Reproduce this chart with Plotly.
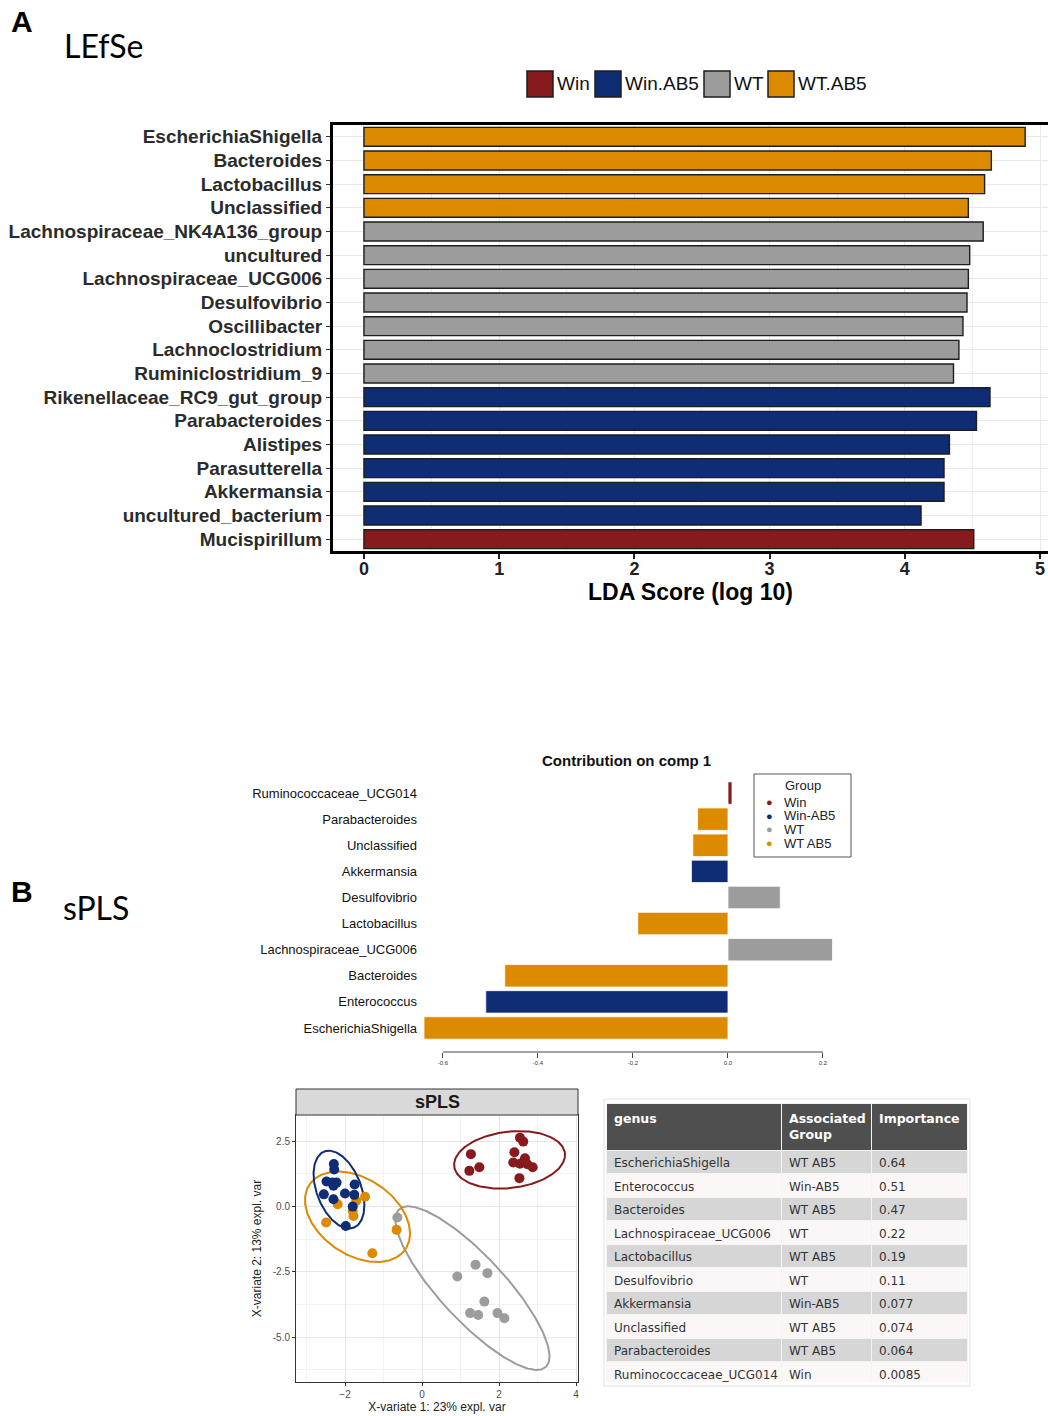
import numpy as np
import plotly.graph_objects as go

W, H = 1048, 1416


def fx(px):
    return px / W


def fy(py):
    return 1 - py / H


# ---------------- LEfSe data ----------------
lefse_taxa = [
    "EscherichiaShigella", "Bacteroides", "Lactobacillus", "Unclassified",
    "Lachnospiraceae_NK4A136_group", "uncultured", "Lachnospiraceae_UCG006",
    "Desulfovibrio", "Oscillibacter", "Lachnoclostridium", "Ruminiclostridium_9",
    "Rikenellaceae_RC9_gut_group", "Parabacteroides", "Alistipes",
    "Parasutterella", "Akkermansia", "uncultured_bacterium", "Mucispirillum",
]
lefse_group = (["WT.AB5"] * 4 + ["WT"] * 7 + ["Win.AB5"] * 6 + ["Win"])
lefse_lda = [4.89, 4.64, 4.59, 4.47, 4.58, 4.48, 4.47, 4.46, 4.43, 4.40, 4.36,
             4.63, 4.53, 4.33, 4.29, 4.29, 4.12, 4.51]
lefse_groups = ["Win", "Win.AB5", "WT", "WT.AB5"]

# ---------------- sPLS loadings / importance ----------------
spls_genus = [
    "EscherichiaShigella", "Enterococcus", "Bacteroides", "Lachnospiraceae_UCG006",
    "Lactobacillus", "Desulfovibrio", "Akkermansia", "Unclassified",
    "Parabacteroides", "Ruminococcaceae_UCG014",
]
spls_group = ["WT AB5", "Win-AB5", "WT AB5", "WT", "WT AB5", "WT", "Win-AB5",
              "WT AB5", "WT AB5", "Win"]
spls_contrib = [-0.64, -0.51, -0.47, 0.22, -0.19, 0.11, -0.077, -0.074, -0.064, 0.0085]
spls_groups = ["Win", "Win-AB5", "WT", "WT AB5"]

# ---------------- sPLS sample scores ----------------
win_x = [1.27, 1.23, 1.49, 2.545, 2.63, 2.40, 2.37, 2.545, 2.675, 2.735, 2.875, 2.53]
win_y = [2.01, 1.37, 1.51, 2.64, 2.49, 2.08, 1.69, 1.64, 1.85, 1.62, 1.51, 1.09]
winab5_x = [-2.29, -2.28, -2.48, -2.33, -2.22, -2.30, -1.75, -2.55, -2.00, -2.30, -1.76, -1.80, -1.98]
winab5_y = [1.63, 1.42, 0.96, 0.92, 0.92, 0.80, 0.85, 0.47, 0.50, 0.28, 0.45, 0.00, -0.74]
wt_x = [-0.64, 0.917, 1.39, 1.70, 1.62, 1.25, 1.46, 1.96, 2.14]
wt_y = [-0.42, -2.68, -2.23, -2.55, -3.64, -4.08, -4.15, -4.08, -4.28]
wtab5_x = [-2.19, -1.71, -1.48, -1.80, -1.78, -2.49, -1.29, -0.66]
wtab5_y = [0.09, 0.22, 0.38, -0.165, -0.36, -0.61, -1.79, -0.89]

score_sets = {
    "Win": (win_x, win_y),
    "Win-AB5": (winab5_x, winab5_y),
    "WT": (wt_x, wt_y),
    "WT AB5": (wtab5_x, wtab5_y),
}

palette = ["#861A1D", "#0E2D75", "#9C9C9C", "#DC8A00"]
lefse_color = dict(zip(lefse_groups, palette))
spls_color = dict(zip(spls_groups, palette))

FONT = "Liberation Sans, Arial, sans-serif"

fig = go.Figure()

# ---------------- Panel A: LEfSe bars ----------------
for g in lefse_groups:
    ys = [t for t, gg in zip(lefse_taxa, lefse_group) if gg == g]
    xs = [v for v, gg in zip(lefse_lda, lefse_group) if gg == g]
    fig.add_trace(go.Bar(
        x=xs, y=ys, orientation="h", name=g, width=0.8,
        marker=dict(color=lefse_color[g], line=dict(color="#1e1e1e", width=1.4)),
        xaxis="x", yaxis="y", showlegend=False,
    ))

# ---------------- Panel B: contribution on comp 1 ----------------
contrib_order = spls_genus[::-1]
contrib_vals = spls_contrib[::-1]
contrib_grp = spls_group[::-1]
fig.add_trace(go.Bar(
    x=contrib_vals, y=contrib_order, orientation="h", width=0.86,
    marker=dict(color=[spls_color[g] for g in contrib_grp],
                line=dict(color="white", width=0.8)),
    xaxis="x2", yaxis="y2", showlegend=False,
))

# ---------------- Panel B: sample plot with 95% ellipses ----------------
CHI2_95 = 5.991


def conf_ellipse(x, y, n=240):
    pts = np.vstack([x, y])
    centre = pts.mean(axis=1)
    vals, vecs = np.linalg.eigh(np.cov(pts))
    t = np.linspace(0, 2 * np.pi, n)
    circ = np.vstack([np.cos(t), np.sin(t)])
    ell = vecs @ (np.sqrt(vals * CHI2_95)[:, None] * circ) + centre[:, None]
    return ell[0], ell[1]


for g in ["WT", "WT AB5", "Win-AB5", "Win"]:
    sx, sy = score_sets[g]
    ex, ey = conf_ellipse(sx, sy)
    fig.add_trace(go.Scatter(
        x=ex, y=ey, mode="lines", line=dict(color=spls_color[g], width=2),
        xaxis="x3", yaxis="y3", showlegend=False, hoverinfo="skip",
    ))
for g in ["WT", "WT AB5", "Win-AB5", "Win"]:
    sx, sy = score_sets[g]
    fig.add_trace(go.Scatter(
        x=sx, y=sy, mode="markers", marker=dict(color=spls_color[g], size=10),
        xaxis="x3", yaxis="y3", showlegend=False,
    ))

# ---------------- Panel B: importance table ----------------
row_fill = ["#d6d6d6" if i % 2 == 0 else "#fbf7f7" for i in range(len(spls_genus))]
fig.add_trace(go.Table(
    domain=dict(x=[fx(606), fx(967)], y=[fy(1383), fy(1103)]),
    columnwidth=[175, 90, 96],
    header=dict(
        values=["<b>genus</b>", "<b>Associated<br>Group</b>", "<b>Importance</b>"],
        fill_color="#4f4f4f", line_color="#f4f4f4",
        font=dict(family="DejaVu Sans, Verdana, sans-serif", size=12.5, color="white"),
        align="left", height=40,
    ),
    cells=dict(
        values=[spls_genus, spls_group, [f"{abs(v):g}" for v in spls_contrib]],
        fill_color=[row_fill] * 3, line_color="#f4f4f4",
        font=dict(family="DejaVu Sans, Verdana, sans-serif", size=12, color="#333333"),
        align="left", height=23.5,
    ),
))

grid = "#e8e8e8"
fig.update_layout(
    width=W, height=H, margin=dict(l=0, r=0, t=0, b=0),
    paper_bgcolor="white", plot_bgcolor="white",
    font=dict(family=FONT, color="#222222"),
    bargap=0.2,
    xaxis=dict(
        domain=[fx(333), 1.0], range=[-0.229, 5.059], anchor="y",
        tickvals=[0, 1, 2, 3, 4, 5], showgrid=True, gridcolor=grid, gridwidth=1,
        minor=dict(tickvals=[0.5, 1.5, 2.5, 3.5, 4.5], showgrid=True, gridcolor="#f0f0f0", gridwidth=1),
        showline=True, linecolor="black", linewidth=3, mirror=True,
        ticks="outside", ticklen=5, tickcolor="#222", tickwidth=1.5,
        ticklabelstandoff=-6,
        tickfont=dict(size=18, color="#222", weight="bold"), zeroline=False,
        title=dict(text="LDA Score (log 10)", font=dict(size=23, color="black", weight="bold"), standoff=6),
    ),
    yaxis=dict(
        domain=[fy(551), fy(125)], range=[17.5, -0.5], anchor="x",
        type="category", categoryorder="array", categoryarray=lefse_taxa,
        showgrid=True, gridcolor=grid, gridwidth=1,
        showline=True, linecolor="black", linewidth=3,
        ticks="outside", ticklen=4, tickcolor="#333", tickwidth=1.2,
        tickfont=dict(size=19, color="#2b2b2b", weight="bold"),
    ),
    xaxis2=dict(
        domain=[fx(418), fx(840)], range=[-0.6526, 0.2358], anchor="y2",
        tickvals=[-0.6, -0.4, -0.2, 0.0, 0.2], ticktext=["-0.6", "-0.4", "-0.2", "0.0", "0.2"],
        showgrid=False, zeroline=False, showline=False,
        ticks="outside", ticklen=5, tickcolor="#444", tickwidth=1,
        tickfont=dict(size=6, color="#333"),
    ),
    yaxis2=dict(
        domain=[fy(1052), fy(780)], range=[9.92, -0.5], anchor="x2",
        type="category", categoryorder="array", categoryarray=contrib_order,
        showgrid=False, showline=False, ticks="",
        tickfont=dict(size=13, color="#111"),
    ),
    xaxis3=dict(
        domain=[fx(296), fx(578)], range=[-3.273, 4.052], anchor="y3",
        tickvals=[-2, 0, 2, 4], showgrid=True, gridcolor="#e6e6e6", gridwidth=1,
        minor=dict(tickvals=[-3, -1, 1, 3], showgrid=True, gridcolor="#f2f2f2", gridwidth=0.8),
        zeroline=False, showline=True, linecolor="#333", linewidth=1, mirror=True,
        ticks="outside", ticklen=3, tickcolor="#333",
        tickfont=dict(size=10, color="#4d4d4d"),
        title=dict(text="X-variate 1: 23% expl. var", font=dict(size=12, color="#222"), standoff=3),
    ),
    yaxis3=dict(
        domain=[fy(1382), fy(1115)], range=[-6.72, 3.51], anchor="x3",
        tickvals=[-5, -2.5, 0, 2.5], ticktext=["-5.0", "-2.5", "0.0", "2.5"],
        showgrid=True, gridcolor="#e6e6e6", gridwidth=1,
        minor=dict(tickvals=[-6.25, -3.75, -1.25, 1.25], showgrid=True, gridcolor="#f2f2f2", gridwidth=0.8),
        zeroline=False, showline=True, linecolor="#333", linewidth=1, mirror=True,
        ticks="outside", ticklen=3, tickcolor="#333",
        tickfont=dict(size=10, color="#4d4d4d"),
        title=dict(text="X-variate 2: 13% expl. var", font=dict(size=12, color="#222"), standoff=8),
    ),
)

shapes = []
annotations = []

# panel letters and titles
annotations += [
    dict(x=fx(9), y=fy(3), xref="paper", yref="paper", xanchor="left", yanchor="top",
         text="<b>A</b>", showarrow=False, font=dict(size=30, color="black", family=FONT)),
    dict(x=fx(62), y=fy(45), xref="paper", yref="paper", xanchor="left", yanchor="middle",
         text="LEfSe", showarrow=False, font=dict(size=32, color="black", family="Lato, Open Sans, sans-serif")),
    dict(x=fx(9), y=fy(873), xref="paper", yref="paper", xanchor="left", yanchor="top",
         text="<b>B</b>", showarrow=False, font=dict(size=30, color="black", family=FONT)),
    dict(x=fx(61), y=fy(907), xref="paper", yref="paper", xanchor="left", yanchor="middle",
         text="sPLS", showarrow=False, font=dict(size=32, color="black", family="Lato, Open Sans, sans-serif")),
]

# LEfSe legend: filled squares with labels
leg_sq_left = [527, 595, 704, 768]
for g, lx in zip(lefse_groups, leg_sq_left):
    shapes.append(dict(type="rect", xref="paper", yref="paper",
                       x0=fx(lx), x1=fx(lx + 26), y0=fy(97), y1=fy(71),
                       fillcolor=lefse_color[g], line=dict(color="#1e1e1e", width=1.5)))
    annotations.append(dict(x=fx(lx + 28), y=fy(84), xref="paper", yref="paper",
                            xanchor="left", yanchor="middle", text=g, showarrow=False,
                            font=dict(size=19, color="#111", family=FONT)))

# contribution plot: title, axis line, legend box
annotations.append(dict(x=fx(626), y=fy(760), xref="paper", yref="paper",
                        xanchor="center", yanchor="middle", text="<b>Contribution on comp 1</b>",
                        showarrow=False, font=dict(size=15, color="#111", family=FONT)))
shapes.append(dict(type="line", xref="x2", yref="paper", x0=-0.6, x1=0.2,
                   y0=fy(1052), y1=fy(1052), line=dict(color="#444", width=1)))
shapes.append(dict(type="rect", xref="paper", yref="paper",
                   x0=fx(754), x1=fx(851), y0=fy(857), y1=fy(774),
                   fillcolor="white", line=dict(color="#555", width=1)))
annotations.append(dict(x=fx(803), y=fy(785), xref="paper", yref="paper",
                        xanchor="center", yanchor="middle", text="Group", showarrow=False,
                        font=dict(size=13, color="#222", family=FONT)))
for i, g in enumerate(spls_groups):
    yy = 802 + 13.7 * i
    annotations.append(dict(x=fx(769), y=fy(yy), xref="paper", yref="paper",
                            xanchor="center", yanchor="middle", text="●", showarrow=False,
                            font=dict(size=11, color=spls_color[g], family=FONT)))
    annotations.append(dict(x=fx(782), y=fy(yy), xref="paper", yref="paper",
                            xanchor="left", yanchor="middle", text=g, showarrow=False,
                            font=dict(size=13, color="#222", family=FONT)))

# sample plot strip header
shapes.append(dict(type="rect", xref="paper", yref="paper",
                   x0=fx(296), x1=fx(578), y0=fy(1115), y1=fy(1089),
                   fillcolor="#d9d9d9", line=dict(color="#333", width=1)))
annotations.append(dict(x=fx(437), y=fy(1102), xref="paper", yref="paper",
                        xanchor="center", yanchor="middle", text="<b>sPLS</b>", showarrow=False,
                        font=dict(size=18, color="#1a1a1a", family=FONT)))

# table outline
shapes.append(dict(type="rect", xref="paper", yref="paper",
                   x0=fx(604), x1=fx(970), y0=fy(1386), y1=fy(1099),
                   line=dict(color="#e2e2e2", width=1)))

fig.update_layout(shapes=shapes, annotations=annotations)
fig.write_html("out.html")
